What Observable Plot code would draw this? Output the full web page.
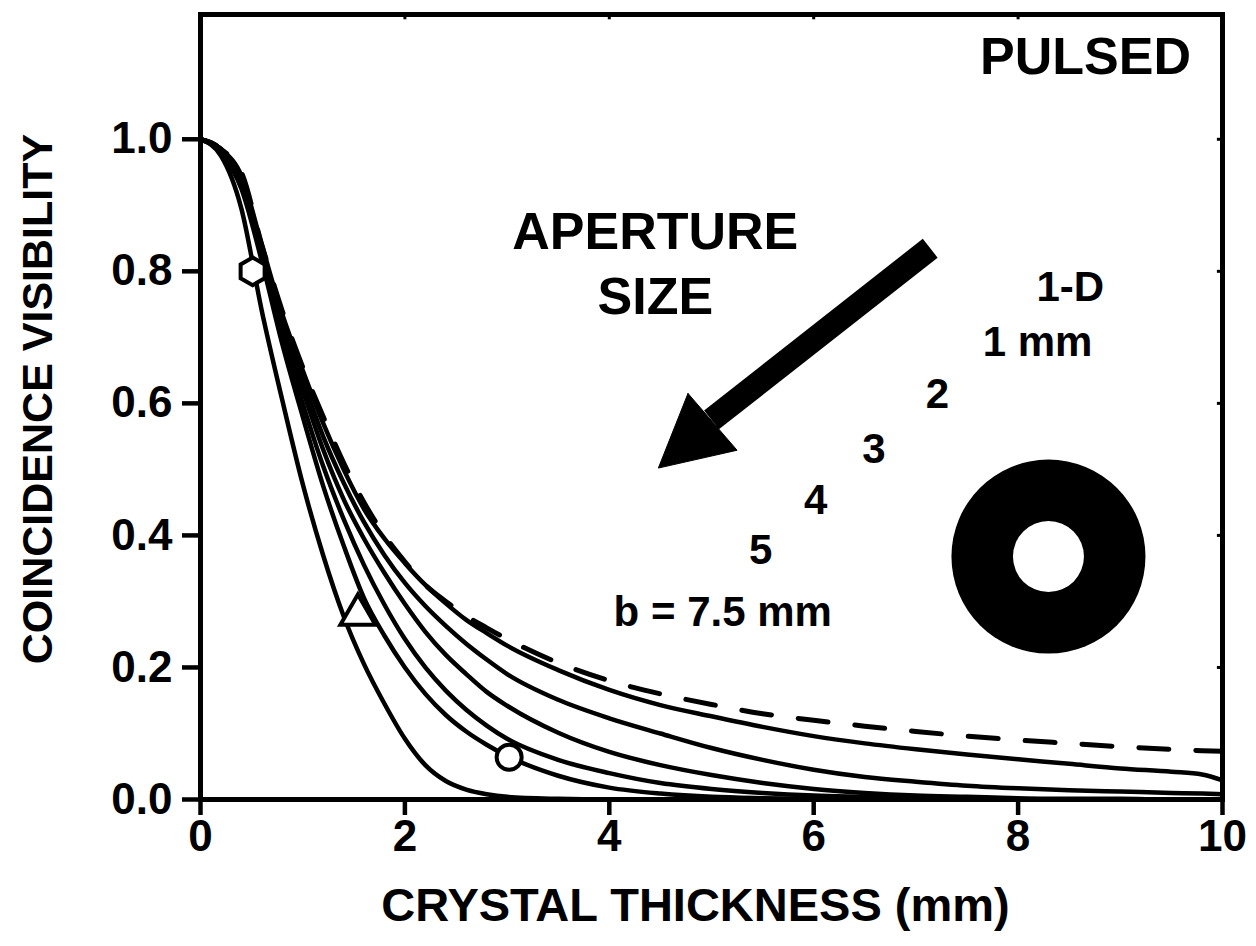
<!DOCTYPE html>
<html><head><meta charset="utf-8">
<script src="https://cdn.jsdelivr.net/npm/d3@7"></script>
<script src="https://cdn.jsdelivr.net/npm/@observablehq/plot@0.6"></script>
<style>html,body{margin:0;padding:0;background:#fff}</style>
</head><body><div id="chart"></div>
<script>
// Crystal thickness (mm) grid shared by every curve
const thickness = [0, 0.2, 0.4, 0.6, 0.8, 1.0, 1.2, 1.4, 1.6, 1.8, 2.0, 2.2, 2.4, 2.6, 2.8, 3.0, 3.5, 4.0, 4.5, 5.0, 5.5, 6.0, 6.5, 7.0, 7.5, 8.0, 8.5, 9.0, 9.5, 9.8, 10.0];
// Coincidence visibility
const vis1D  = [1.0, 0.985, 0.95, 0.84, 0.74, 0.655, 0.58, 0.51, 0.45, 0.40, 0.36, 0.325, 0.30, 0.278, 0.26, 0.243, 0.207, 0.18, 0.16, 0.144, 0.13, 0.12, 0.111, 0.103, 0.096, 0.09, 0.085, 0.08, 0.076, 0.074, 0.073];
const vis1mm = [1.0, 0.985, 0.945, 0.84, 0.735, 0.65, 0.57, 0.50, 0.44, 0.395, 0.358, 0.325, 0.297, 0.272, 0.252, 0.233, 0.196, 0.166, 0.143, 0.126, 0.11, 0.096, 0.085, 0.076, 0.068, 0.061, 0.054, 0.047, 0.042, 0.038, 0.029];
const vis2mm = [1.0, 0.985, 0.94, 0.835, 0.725, 0.635, 0.55, 0.48, 0.42, 0.37, 0.328, 0.293, 0.263, 0.236, 0.212, 0.19, 0.151, 0.123, 0.10, 0.078, 0.06, 0.045, 0.034, 0.027, 0.021, 0.017, 0.014, 0.012, 0.01, 0.009, 0.008];
const vis3mm = [1.0, 0.985, 0.935, 0.83, 0.715, 0.62, 0.53, 0.455, 0.395, 0.343, 0.296, 0.254, 0.219, 0.19, 0.163, 0.142, 0.101, 0.072, 0.052, 0.037, 0.025, 0.016, 0.01, 0.006, 0.004, 0.002, 0.001, 0.001, 0, 0, 0];
const vis4mm = [1.0, 0.985, 0.93, 0.825, 0.705, 0.60, 0.505, 0.425, 0.355, 0.295, 0.243, 0.20, 0.165, 0.136, 0.112, 0.092, 0.06, 0.04, 0.025, 0.016, 0.01, 0.006, 0.004, 0.002, 0.001, 0, 0, 0, 0, 0, 0];
const vis5mm = [1.0, 0.98, 0.925, 0.815, 0.69, 0.58, 0.475, 0.385, 0.305, 0.248, 0.20, 0.16, 0.128, 0.103, 0.083, 0.066, 0.036, 0.018, 0.009, 0.004, 0.002, 0.001, 0, 0, 0, 0, 0, 0, 0, 0, 0];
const vis75mm = [1.0, 0.975, 0.895, 0.74, 0.605, 0.478, 0.37, 0.278, 0.205, 0.145, 0.092, 0.052, 0.028, 0.015, 0.008, 0.004, 0.001, 0, 0, 0, 0, 0, 0, 0, 0, 0, 0, 0, 0, 0, 0];

const seriesNames = ["1-D", "1 mm", "2", "3", "4", "5", "b = 7.5 mm"];
const seriesValues = [vis1D, vis1mm, vis2mm, vis3mm, vis4mm, vis5mm, vis75mm];

// curve labels
const labelText = ["1-D", "1 mm", "2", "3", "4", "5", "b = 7.5 mm"];
const labelX = [8.51, 8.19, 7.21, 6.59, 6.02, 5.48, 5.11];
const labelY = [0.776, 0.692, 0.614, 0.530, 0.453, 0.377, 0.283];

// annotations
const noteText = ["APERTURE", "SIZE", "PULSED"];
const noteX = [4.45, 4.45, 8.66];
const noteY = [0.859, 0.761, 1.124];

// marker symbols on curves
const markerSymbol = ["hexagon", "triangle", "circle"];
const markerX = [0.51, 1.54, 3.02];
const markerY = [0.80, 0.28, 0.064];
const markerR = [12, 13, 12.5];

// arrow (data units)
const shaftX = [7.14, 5.0];
const shaftY = [0.835, 0.575];
const headX = [4.77, 5.25, 4.48, 4.77];
const headY = [0.615, 0.529, 0.502, 0.615];

// annular aperture icon
const ringX = [8.297];
const ringY = [0.368];

const xTicks = [0, 2, 4, 6, 8, 10];
const yTicks = [0, 0.2, 0.4, 0.6, 0.8, 1.0];

const rows = seriesNames.flatMap((s, k) => thickness.map((t, i) => ({series: s, x: t, y: seriesValues[k][i]})));
const solidRows = rows.filter(d => d.series !== "1-D");
const dashRows = rows.filter(d => d.series === "1-D");
const labels = labelText.map((t, i) => ({t, x: labelX[i], y: labelY[i]}));
const notes = noteText.map((t, i) => ({t, x: noteX[i], y: noteY[i]}));
const markers = markerSymbol.map((s, i) => ({s, x: markerX[i], y: markerY[i], r: markerR[i]}));
const shaft = shaftX.map((x, i) => ({x, y: shaftY[i]}));
const head = headX.map((x, i) => ({x, y: headY[i]}));
const ring = ringX.map((x, i) => ({x, y: ringY[i]}));
const yMax = 1.189;

const chart = Plot.plot({
  width: 1256, height: 946,
  marginLeft: 200, marginRight: 34, marginTop: 14, marginBottom: 147,
  x: {domain: [0, 10]},
  y: {domain: [0, yMax]},
  r: {type: "identity"},
  style: {fontFamily: "'Liberation Sans', Arial, Helvetica, sans-serif", fontWeight: "bold", fontSize: "44px", color: "black", background: "white"},
  marks: [
    Plot.axisX({ticks: xTicks, tickSize: 16, tickPadding: 4, tickFormat: d => String(d), strokeWidth: 4.5, label: null}),
    Plot.axisY({ticks: yTicks, tickSize: 18, tickPadding: 10, tickFormat: d3.format(".1f"), strokeWidth: 4.5, label: null}),
    Plot.ruleX([2, 4, 6, 8], {y1: yMax, y2: yMax - 0.008, strokeWidth: 3}),
    Plot.ruleY([0.2, 0.4, 0.6, 0.8, 1.0], {x1: 10, x2: 9.95, strokeWidth: 3}),
    Plot.line(solidRows, {x: "x", y: "y", z: "series", stroke: "black", strokeWidth: 4.5, curve: "monotone-x"}),
    Plot.line(dashRows, {x: "x", y: "y", stroke: "black", strokeWidth: 5, strokeDasharray: "30,27", curve: "monotone-x"}),
    Plot.dot(markers, {x: "x", y: "y", symbol: "s", r: "r", fill: "white", stroke: "black", strokeWidth: 4}),
    Plot.line(shaft, {x: "x", y: "y", stroke: "black", strokeWidth: 24, strokeLinecap: "butt"}),
    Plot.line(head, {x: "x", y: "y", fill: "black", stroke: "black", strokeWidth: 1}),
    Plot.dot(ring, {x: "x", y: "y", r: 97, fill: "black"}),
    Plot.dot(ring, {x: "x", y: "y", r: 35.5, fill: "white"}),
    Plot.text(labels, {x: "x", y: "y", text: "t", fontSize: 42}),
    Plot.text(notes, {x: "x", y: "y", text: "t", fontSize: 52}),
    Plot.text(["CRYSTAL THICKNESS (mm)"], {text: d => d, frameAnchor: "bottom", textAnchor: "middle", lineAnchor: "middle", dy: 106, dx: -16, fontSize: 47}),
    Plot.text(["COINCIDENCE VISIBILITY"], {text: d => d, frameAnchor: "left", textAnchor: "middle", lineAnchor: "middle", rotate: -90, dx: -162, dy: -8, fontSize: 43}),
    Plot.frame({stroke: "black", strokeWidth: 5})
  ]
});
document.getElementById("chart").appendChild(chart);
</script>
</body></html>
